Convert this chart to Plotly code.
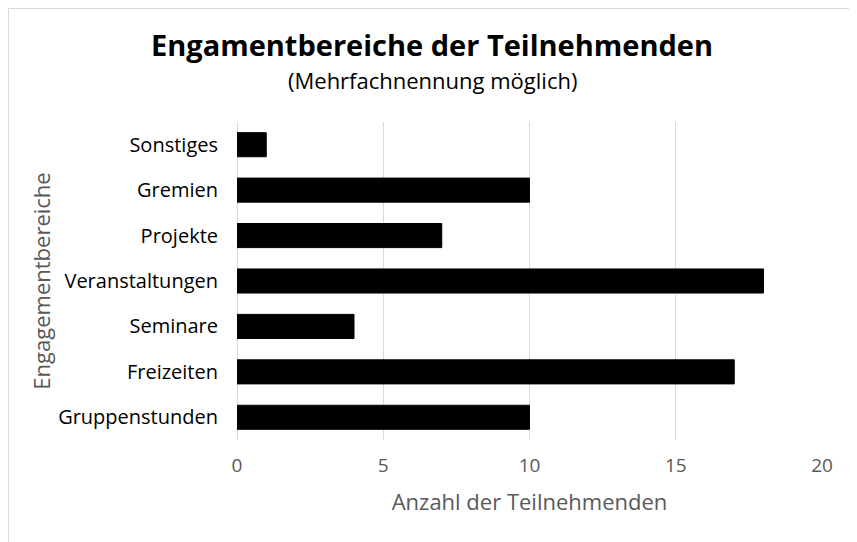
import plotly.graph_objects as go

categories = ["Gruppenstunden", "Freizeiten", "Seminare", "Veranstaltungen", "Projekte", "Gremien", "Sonstiges"]
values = [10, 17, 4, 18, 7, 10, 1]
x_ticks = [0, 5, 10, 15, 20]

title_text = "Engamentbereiche der Teilnehmenden"
subtitle_text = "(Mehrfachnennung möglich)"
x_title = "Anzahl der Teilnehmenden"
y_title = "Engagementbereiche"

FONT = "Open Sans"
OFF = 8  # page body margin
W, H = 857 - OFF, 542 - OFF
L, R, T, B = 237 - OFF, 35, 122 - OFF, 102
pw, ph = W - L - R, H - T - B

fig = go.Figure(go.Bar(
    y=categories, x=values, orientation="h",
    marker=dict(color="#000000", line=dict(color="#000000", width=1)),
))

def px_x(wx):
    return (wx - OFF - L) / pw

def px_y(wy):
    return (H - B - (wy - OFF)) / ph

fig.update_layout(
    width=W, height=H,
    margin=dict(l=L, r=R, t=T, b=B),
    paper_bgcolor="white", plot_bgcolor="white",
    font=dict(family=FONT, color="#000000"),
    bargap=0.47,
    showlegend=False,
    xaxis=dict(
        range=[0, 20], tickvals=x_ticks, ticktext=[str(v) for v in x_ticks],
        showgrid=True, gridcolor="#d9d9d9", gridwidth=1,
        zeroline=True, zerolinecolor="#d9d9d9", zerolinewidth=1,
        showline=False, ticks="",
        tickfont=dict(size=19, color="#595959", family=FONT),
        ticklabelstandoff=12,
        title=dict(text=x_title, font=dict(size=22, color="#595959", family=FONT), standoff=17),
    ),
    yaxis=dict(
        categoryorder="array", categoryarray=categories,
        showgrid=False, zeroline=False, showline=False, ticks="",
        tickfont=dict(size=20, color="#000000", family=FONT),
        ticklabelstandoff=18,
        title=dict(text=y_title, font=dict(size=22, color="#595959", family=FONT), standoff=1),
    ),
    annotations=[
        dict(text="<b>" + title_text + "</b>", xref="paper", yref="paper",
             x=px_x(432), y=px_y(45), xanchor="center", yanchor="middle",
             showarrow=False, font=dict(size=29, color="#000000", family=FONT)),
        dict(text=subtitle_text, xref="paper", yref="paper",
             x=px_x(432), y=px_y(80), xanchor="center", yanchor="middle",
             showarrow=False, font=dict(size=22, color="#000000", family=FONT)),
    ],
    shapes=[
        dict(type="rect", xref="paper", yref="paper",
             x0=(0.5 - L) / pw, x1=(W + 20 - L) / pw,
             y0=(H - B - (H + 20)) / ph, y1=(H - B - 0.5) / ph,
             line=dict(color="#d9d9d9", width=1), fillcolor="rgba(0,0,0,0)", layer="below"),
    ],
)

fig.write_html("out.html")
